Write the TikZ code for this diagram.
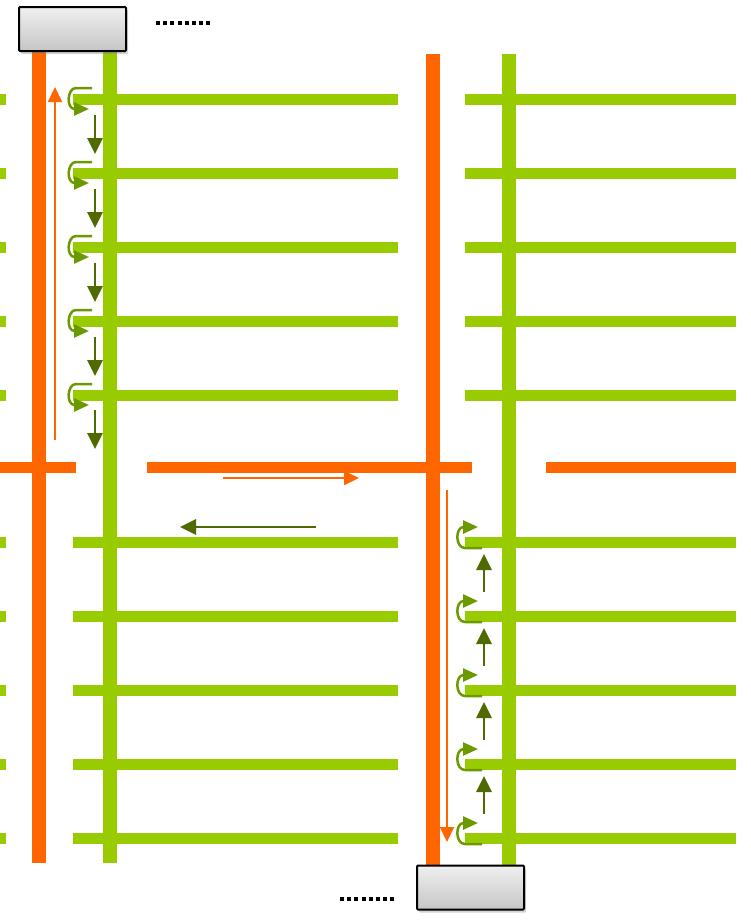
\documentclass[tikz,border=0pt]{standalone}
\usetikzlibrary{arrows.meta,shadows}
\definecolor{orng}{HTML}{FF6600}
\definecolor{lgreen}{HTML}{99CC00}
\definecolor{dgreen}{HTML}{4F6A00}
\definecolor{mgreen}{HTML}{6B9A00}
\begin{document}
\begin{tikzpicture}[x=1pt,y=-1pt,
  vbar/.style={line width=14pt},
  hbar/.style={line width=11pt},
  procbox/.style={draw=black, line width=2pt, rounded corners=1pt,
    top color=gray!12, bottom color=gray!45,
    minimum width=107pt, minimum height=44pt, inner sep=0pt,
    drop shadow={opacity=0.35, shadow xshift=2pt, shadow yshift=-3pt}},
  dots/.style={line width=3.5pt, dash pattern=on 4pt off 3.2pt},
  thinor/.style={orng, line width=2pt, -{Triangle[length=15pt,width=14pt]}},
  darr/.style={dgreen, line width=2.8pt, -{Triangle[length=16pt,width=15pt]}},
  curl/.style={mgreen, line width=2.5pt, -{Triangle[length=15pt,width=13pt]}}
]
\useasboundingbox (0,0) rectangle (750,921);

% horizontal green bars (upper)
\foreach \y in {99,173,247,321,395}{
  \draw[hbar, lgreen] (0,\y) -- (6,\y);
  \draw[hbar, lgreen] (73,\y) -- (398,\y);
  \draw[hbar, lgreen] (465,\y) -- (736,\y);
}
% horizontal green bars (lower)
\foreach \y in {542,616,690,764,838}{
  \draw[hbar, lgreen] (0,\y) -- (6,\y);
  \draw[hbar, lgreen] (73,\y) -- (398,\y);
  \draw[hbar, lgreen] (465,\y) -- (736,\y);
}
% orange horizontal bar
\draw[hbar, orng] (0,467) -- (76,467);
\draw[hbar, orng] (147,467) -- (472,467);
\draw[hbar, orng] (546,467) -- (736,467);

% vertical bars
\coordinate (lo1) at (39,52);  \coordinate (lo2) at (39,863);
\coordinate (lg1) at (110,52); \coordinate (lg2) at (110,863);
\coordinate (ro1) at (433,54); \coordinate (ro2) at (433,865);
\coordinate (rg1) at (509,54); \coordinate (rg2) at (509,865);
\draw[vbar, orng] (lo1) -- (lo2);
\draw[vbar, lgreen] (lg1) -- (lg2);
\draw[vbar, orng] (ro1) -- (ro2);
\draw[vbar, lgreen] (rg1) -- (rg2);

% boxes
\node[procbox] (topbox) at (72.5,29) {};
\node[procbox] (botbox) at (470.5,887.5) {};

% dotted lines
\coordinate (d1a) at (156,23); \coordinate (d1b) at (213,23);
\coordinate (d2a) at (340,899); \coordinate (d2b) at (397,899);
\draw[dots] (d1a) -- (d1b);
\draw[dots] (d2a) -- (d2b);

% thin orange arrows
\coordinate (oa1) at (55,440); \coordinate (oa2) at (55,87);
\coordinate (ob1) at (447,490); \coordinate (ob2) at (447,842);
\coordinate (oc1) at (223,478); \coordinate (oc2) at (359,478);
\draw[thinor] (oa1) -- (oa2);
\draw[thinor] (ob1) -- (ob2);
\draw[thinor] (oc1) -- (oc2);
% dark green horizontal arrow
\coordinate (ga1) at (316,527); \coordinate (ga2) at (180,527);
\draw[darr] (ga1) -- (ga2);

% down arrows upper
\foreach \y in {115,189,263,337,410}{
  \draw[darr] (95,\y) -- (95,\y+39);
}
% up arrows lower
\foreach \y in {592,666,740,814}{
  \draw[darr] (484,\y) -- (484,\y-38);
}
% curly arrows upper
\foreach \y in {99,173,247,321,395}{
  \draw[curl] (92,\y-11) -- (76,\y-11) .. controls (67,\y-11) and (66,\y+10) .. (89,\y+10);
}
% curly arrows lower
\foreach \y in {542,616,690,764,838}{
  \draw[curl] (482,\y+6) -- (465,\y+6) .. controls (455,\y+6) and (455,\y-15) .. (478,\y-15);
}
\end{tikzpicture}
\end{document}
